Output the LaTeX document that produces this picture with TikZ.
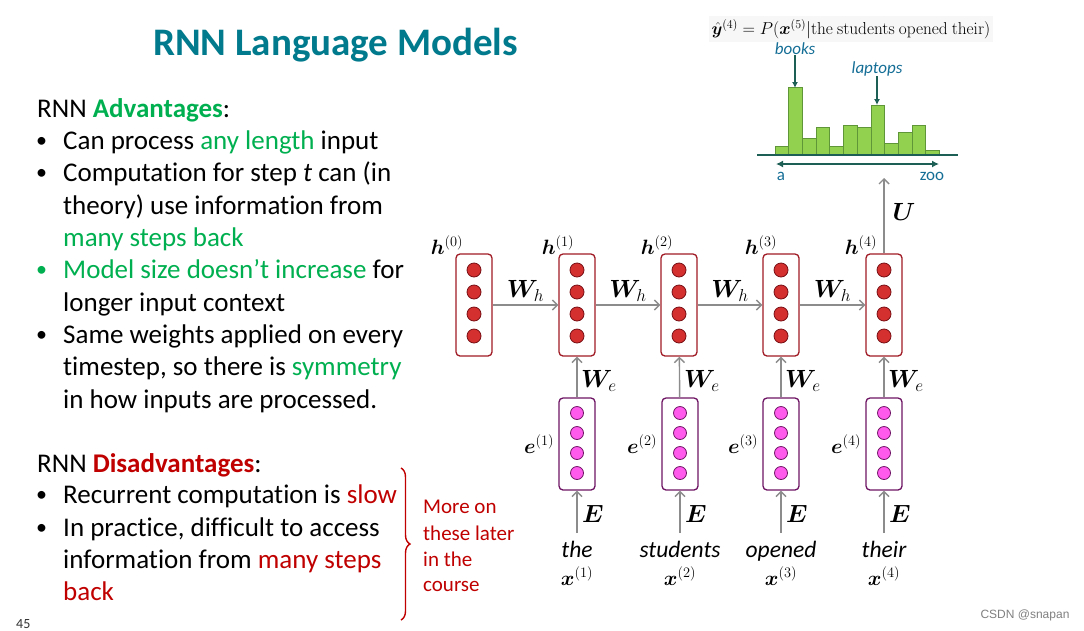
\documentclass[tikz,border=0pt]{standalone}
\usepackage{amsmath,bm}
\usepackage[no-math]{fontspec}
\setmainfont{Carlito}[Ligatures=NoCommon]
\newfontfamily\wmfont{Liberation Sans}
\usetikzlibrary{arrows.meta,decorations.pathreplacing}
\definecolor{titleC}{RGB}{0,122,140}
\definecolor{goodC}{RGB}{0,176,80}
\definecolor{badC}{RGB}{192,0,0}
\definecolor{hDraw}{RGB}{160,28,38}
\definecolor{hFill}{RGB}{212,48,48}
\definecolor{hDot}{RGB}{120,15,20}
\definecolor{eDraw}{RGB}{110,20,100}
\definecolor{eFill}{RGB}{255,90,235}
\definecolor{arrC}{RGB}{140,140,140}
\definecolor{barFill}{RGB}{146,208,80}
\definecolor{barDraw}{RGB}{95,150,55}
\definecolor{tealD}{RGB}{30,95,85}
\definecolor{labC}{RGB}{20,110,150}
\newcommand\bodyfs{\fontsize{27}{32}\selectfont}
\newcommand\mathfs{\fontsize{21}{25}\selectfont}
\newcommand\wfs{\fontsize{24}{28}\selectfont}
\tikzset{
  txt/.style={anchor=base west,inner sep=0pt,font=\bodyfs},
  bul/.style={anchor=base west,inner sep=0pt,font=\fontsize{22}{26}\selectfont},
  hbox/.style={draw=hDraw,line width=1.3pt,rounded corners=4pt,minimum width=36pt,minimum height=102pt,inner sep=0pt},
  hdot/.style={circle,draw=hDot,fill=hFill,line width=0.8pt,minimum size=14pt,inner sep=0pt},
  ebox/.style={draw=eDraw,line width=1.3pt,rounded corners=4pt,minimum width=36pt,minimum height=92pt,inner sep=0pt},
  edot/.style={circle,draw=eDraw,fill=eFill,line width=0.8pt,minimum size=13pt,inner sep=0pt},
  arr/.style={draw=arrC,line width=1.4pt,-{Straight Barb[length=5pt,width=10pt]}},
  mlab/.style={inner sep=0pt,font=\mathfs},
  wlab/.style={inner sep=0pt,font=\wfs},
  word/.style={anchor=base,inner sep=0pt,font=\fontsize{23.5}{27}\selectfont\itshape},
  tarr/.style={draw=tealD,line width=1.2pt,-{Latex[length=6pt,width=6pt]}},
  bar/.style={draw=barDraw,fill=barFill,line width=0.8pt}
}
\begin{document}
\begin{tikzpicture}[x=1pt,y=-1pt]
\useasboundingbox[fill=white] (0,0) rectangle (1084,630);
% title
\node[anchor=base west,inner sep=0pt,font=\fontsize{39}{44}\selectfont\bfseries,text=titleC] (title) at (153,55) {RNN Language Models};
% advantages
\node[txt] (adv) at (37,117) {RNN \textcolor{goodC}{\textbf{Advantages}}:};
\node[bul] (b1) at (36,147) {•};
\node[txt] (a1) at (63,149) {Can process \textcolor{goodC}{any length} input};
\node[bul] (b2) at (36,179) {•};
\node[txt] (a2) at (63,181) {Computation for step \textit{t} can (in};
\node[txt] (a3) at (63,214) {theory) use information from};
\node[txt,text=goodC] (a4) at (63,246) {many steps back};
\node[bul,text=goodC] (b3) at (36,276) {•};
\node[txt] (a5) at (63,278) {\textcolor{goodC}{Model size doesn’t increase} for};
\node[txt] (a6) at (63,311) {longer input context};
\node[bul] (b4) at (36,341) {•};
\node[txt] (a7) at (63,343) {Same weights applied on every};
\node[txt] (a8) at (63,375) {timestep, so there is \textcolor{goodC}{symmetry}};
\node[txt] (a9) at (63,408) {in how inputs are processed.};
% disadvantages
\node[txt] (dis) at (37,472) {RNN \textcolor{badC}{\textbf{Disadvantages}}:};
\node[bul] (b5) at (36,501) {•};
\node[txt] (d1) at (63,503) {Recurrent computation is \textcolor{badC}{slow}};
\node[bul] (b6) at (36,534) {•};
\node[txt] (d2) at (63,536) {In practice, difficult to access};
\node[txt] (d3) at (63,568) {information from \textcolor{badC}{many steps}};
\node[txt,text=badC] (d4) at (63,600) {back};
\node[anchor=north west,inner sep=0pt,font=\fontsize{14}{16}\selectfont,text=black!80] (pg) at (16,619) {45};
% brace
\draw[badC,line width=1.4pt,decorate,decoration={brace,amplitude=9pt}] (401,468) -- (401,620);
\node[anchor=base west,inner sep=0pt,font=\fontsize{21}{26}\selectfont,text=badC] (more1) at (423,513) {More on};
\node[anchor=base west,inner sep=0pt,font=\fontsize{21}{26}\selectfont,text=badC] (more2) at (423,540) {these later};
\node[anchor=base west,inner sep=0pt,font=\fontsize{21}{26}\selectfont,text=badC] (more3) at (423,566) {in the};
\node[anchor=base west,inner sep=0pt,font=\fontsize{21}{26}\selectfont,text=badC] (more4) at (423,591) {course};
% hidden boxes
\foreach \i/\x/\lx in {0/474/447,1/577/558,2/679/657,3/781/761,4/884/861}{
  \node[hbox] (h\i) at (\x,305) {};
  \foreach \k in {0,...,3}{\node[hdot] (h\i d\k) at (\x,270+22*\k) {};}
  \node[mlab] (hl\i) at (\lx,245) {$\bm{h}^{(\i)}$};
}
\foreach \a/\b in {0/1,1/2,2/3,3/4}{
  \draw[arr] (h\a) -- node[midway,yshift=14pt,wlab] (wh\a) {$\bm{W}_h$} (h\b);
}
% embeddings
\foreach \i/\x/\w in {1/577/the,2/680/students,3/781/opened,4/884/their}{
  \node[ebox] (e\i) at (\x,444) {};
  \foreach \k in {0,...,3}{\node[edot] (e\i d\k) at (\x,413+20*\k) {};}
  \node[mlab,anchor=east] (el\i) at ([xshift=-4pt]e\i.west) {$\bm{e}^{(\i)}$};
  \draw[arr] (e\i) -- (h\i);
  \node[wlab,anchor=west] (we\i) at (\x+4,381) {$\bm{W}_e$};
  \coordinate (in\i) at (\x,533);
  \draw[arr] (in\i) -- (e\i);
  \node[wlab,anchor=west] (E\i) at (\x+5,514) {$\bm{E}$};
  \node[word] (w\i) at (\x,557) {\w};
  \node[mlab] (x\i) at (\x,576) {$\bm{x}^{(\i)}$};
}
% output
\coordinate (yout) at (884,178);
\draw[arr] (h4) -- (yout);
\node[wlab] (U) at (904,212) {$\bm{U}$};
% histogram
\foreach \k/\t in {0/146.7,1/87.7,2/138.3,3/127.7,4/146.7,5/125,6/127.7,7/105,8/143.3,9/132.7,10/125,11/150}{
  \draw[bar] (775+13.7*\k,155) rectangle (788.7+13.7*\k,\t);
}
\draw[tealD,line width=1.3pt] (757,155) -- (958,155);
\draw[tealD,line width=1.5pt,{Latex[length=7pt,width=7pt]}-{Latex[length=7pt,width=7pt]}] (776,164) -- (939,164);
\node[inner sep=0pt,font=\fontsize{17}{20}\selectfont,text=labC] (la) at (781,176) {a};
\node[inner sep=0pt,font=\fontsize{17}{20}\selectfont,text=labC] (lzoo) at (932,176) {zoo};
\node[inner sep=0pt,font=\fontsize{17}{20}\selectfont\itshape,text=labC] (books) at (795,49) {books};
\coordinate (booksTip) at (795,88);
\draw[tarr] (books) -- (booksTip);
\node[inner sep=0pt,font=\fontsize{17}{20}\selectfont\itshape,text=labC] (laptops) at (877,69) {laptops};
\coordinate (lapTip) at (877,105);
\draw[tarr] (laptops) -- (lapTip);
\node[inner sep=3pt,fill=black!3,font=\fontsize{18.2}{21}\selectfont] (formula) at (851,29) {$\hat{\bm{y}}^{(4)}=P(\bm{x}^{(5)}|\mathrm{the\ students\ opened\ their})$};
\node[inner sep=0pt,font=\wmfont\fontsize{12}{14}\selectfont,text=black!50] (wm) at (1025,615) {CSDN @snapan};
\end{tikzpicture}
\end{document}
